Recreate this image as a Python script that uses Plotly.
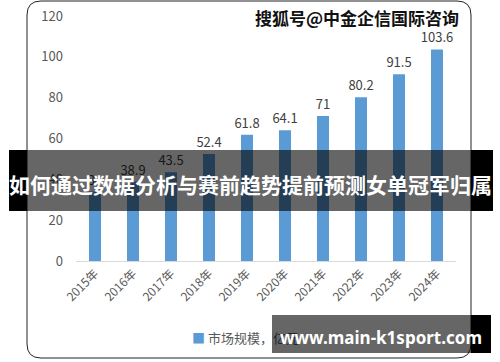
import plotly.graph_objects as go

years = ["2015年", "2016年", "2017年", "2018年", "2019年", "2020年", "2021年", "2022年", "2023年", "2024年"]
values = [34.0, 38.9, 43.5, 52.4, 61.8, 64.1, 71, 80.2, 91.5, 103.6]
value_labels = ["34", "38.9", "43.5", "52.4", "61.8", "64.1", "71", "80.2", "91.5", "103.6"]
y_ticks = [0, 20, 40, 60, 80, 100, 120]
legend_name = "市场规模，亿元"
title_text = "如何通过数据分析与赛前趋势提前预测女单冠军归属"
watermark_text = "搜狐号@中金企信国际咨询"
site_text = "www.main-k1sport.com"

W, H = 500, 362
def px(x):
    return x / W
def py(y):
    return 1 - y / H

CJK = "Noto Sans CJK SC, Noto Sans, sans-serif"

fig = go.Figure()
fig.add_trace(go.Bar(
    x=years, y=values, text=value_labels, textposition="outside",
    textfont=dict(size=13, color="#404040", family=CJK), constraintext="none",
    marker=dict(color="#5B9BD5", line=dict(width=0)),
    cliponaxis=False, name=legend_name, showlegend=False, hoverinfo="skip",
))

# rounded chart border
x0, x1, y0, y1, r = 27, 471, 1, 358, 14
path = (f"M {px(x0+r)},{py(y0)} L {px(x1-r)},{py(y0)} Q {px(x1)},{py(y0)} {px(x1)},{py(y0+r)} "
        f"L {px(x1)},{py(y1-r)} Q {px(x1)},{py(y1)} {px(x1-r)},{py(y1)} "
        f"L {px(x0+r)},{py(y1)} Q {px(x0)},{py(y1)} {px(x0)},{py(y1-r)} "
        f"L {px(x0)},{py(y0+r)} Q {px(x0)},{py(y0)} {px(x0+r)},{py(y0)} Z")
shapes = [dict(type="path", xref="paper", yref="paper", path=path,
               line=dict(color="#222222", width=1), fillcolor="rgba(0,0,0,0)", layer="below")]

def box(xl, xr, yt, yb, color):
    return dict(xref="paper", yref="paper", x=px(xl), y=py(yt), xanchor="left", yanchor="top",
                width=xr - xl, height=yb - yt, text=" ", showarrow=False, bgcolor=color,
                borderpad=0, borderwidth=0)

annotations = [
    dict(xref="paper", yref="paper", x=px(190), y=py(337), xanchor="left", yanchor="middle",
         text=f"<span style='color:#5B9BD5'>■</span> {legend_name}", showarrow=False,
         font=dict(size=13, color="#595959", family=CJK)),
    dict(xref="paper", yref="paper", x=px(461), y=py(17), xanchor="right", yanchor="middle",
         text=f"<b>{watermark_text}</b>", showarrow=False,
         font=dict(size=17, color="#111111", family=CJK)),
    box(9, 27, 150, 211, "#000000"),
    box(471, 493, 150, 211, "#000000"),
    box(27, 471, 150, 211, "rgba(0,0,0,0.6)"),
    dict(xref="paper", yref="paper", x=px(250.5), y=py(184), xanchor="center", yanchor="middle",
         text=f"<b>{title_text}</b>", showarrow=False,
         font=dict(size=21, color="#FFFFFF", family=CJK)),
    box(272, 471, 315, 353, "rgba(0,0,0,0.6)"),
    box(471, 491, 315, 353, "#000000"),
    dict(xref="paper", yref="paper", x=px(380.5), y=py(337), xanchor="center", yanchor="middle",
         text=f"<b>{site_text}</b>", showarrow=False,
         font=dict(size=17, color="#FFFFFF", family="Noto Sans, sans-serif")),
]

fig.update_layout(
    width=W, height=H, margin=dict(l=0, r=0, t=0, b=0, autoexpand=False),
    paper_bgcolor="white", plot_bgcolor="white",
    bargap=0.684, showlegend=False, hovermode=False,
    shapes=shapes, annotations=annotations,
    xaxis=dict(domain=[px(76), px(456)], type="category", showline=True, linecolor="#D9D9D9",
               linewidth=1, showgrid=False, ticks="", tickangle=-45, automargin=False,
               tickfont=dict(size=12, color="#595959", family=CJK)),
    yaxis=dict(domain=[py(261), py(16)], range=[0, 120], tickvals=y_ticks, showgrid=False,
               showline=False, zeroline=False, ticks="", ticklabelstandoff=12, automargin=False,
               tickfont=dict(size=13, color="#595959", family=CJK)),
)

fig.write_html("out.html", config={"displayModeBar": False},
               post_script="document.body.style.margin='0';")
